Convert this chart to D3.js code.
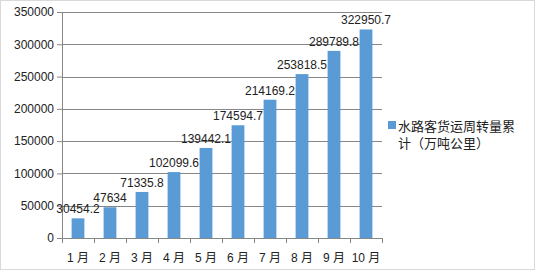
<!DOCTYPE html>
<html>
<head>
<meta charset="utf-8">
<script src="https://cdn.jsdelivr.net/npm/d3@7"></script>
<style>
  body { margin: 0; background: #fff; }
  svg { display: block; }
  text { font-family: "Liberation Sans", "Noto Sans CJK SC", sans-serif; fill: #222; }
</style>
</head>
<body>
<svg width="535" height="270"></svg>
<script>
const months = ['1月', '2月', '3月', '4月', '5月', '6月', '7月', '8月', '9月', '10月'];
const values = [30454.2, 47634, 71335.8, 102099.6, 139442.1, 174594.7, 214169.2, 253818.5, 289789.8, 322950.7];
const yTicks = [0, 50000, 100000, 150000, 200000, 250000, 300000, 350000];
const seriesName = ['水路客货运周转量累', '计（万吨公里）'];

const svg = d3.select('svg');
const width = parseInt(svg.attr('width'));
const height = parseInt(svg.attr('height'));

// outer frame
svg.append('rect')
  .attr('x', 0.5).attr('y', 0.5)
  .attr('width', width - 1).attr('height', height - 1)
  .attr('fill', 'none').attr('stroke', '#d9d9d9');

const margin = { top: 12, right: 153, bottom: 32, left: 62 };
const innerWidth = width - margin.left - margin.right;
const innerHeight = height - margin.top - margin.bottom;

const g = svg.append('g')
  .attr('transform', `translate(${margin.left},${margin.top})`);

const xScale = d3.scaleBand()
  .domain(months)
  .range([0, innerWidth])
  .paddingInner(0.6)
  .paddingOuter(0.3);

const yScale = d3.scaleLinear()
  .domain([0, 350000])
  .range([innerHeight, 0]);

// gridlines + y axis
const yAxis = d3.axisLeft(yScale)
  .tickValues(yTicks)
  .tickSize(5)
  .tickPadding(3)
  .tickFormat(d3.format('d'));

g.append('g').selectAll('line').data(yTicks.slice(1))
  .enter().append('line')
    .attr('x1', 0).attr('x2', innerWidth)
    .attr('y1', d => Math.round(yScale(d)) + 0.5)
    .attr('y2', d => Math.round(yScale(d)) + 0.5)
    .attr('stroke', '#868686');

const yAxisG = g.append('g').call(yAxis);
yAxisG.selectAll('line, path').attr('stroke', '#868686');
yAxisG.selectAll('text').style('font-size', '12px').attr('fill', '#222');

// x axis with ticks at band edges
const xAxisG = g.append('g')
  .attr('transform', `translate(0,${innerHeight})`);
xAxisG.append('line')
  .attr('x1', 0).attr('x2', innerWidth)
  .attr('y1', 0.5).attr('y2', 0.5)
  .attr('stroke', '#868686');
const step = xScale.step();
const edges = d3.range(months.length + 1).map(i => i * innerWidth / months.length);
xAxisG.selectAll('.edge').data(edges)
  .enter().append('line')
    .attr('x1', d => Math.round(d) + 0.5).attr('x2', d => Math.round(d) + 0.5)
    .attr('y1', 0).attr('y2', 5)
    .attr('stroke', '#868686');
xAxisG.selectAll('.lbl').data(months)
  .enter().append('text')
    .attr('x', d => xScale(d) + xScale.bandwidth() / 2)
    .attr('y', 24)
    .attr('text-anchor', 'middle')
    .style('font-size', '12px')
    .text(d => d.replace('月', ' 月'));

// bars
g.selectAll('.bar').data(values)
  .enter().append('rect')
    .attr('x', (d, i) => xScale(months[i]))
    .attr('y', d => yScale(d))
    .attr('width', xScale.bandwidth())
    .attr('height', d => innerHeight - yScale(d))
    .attr('fill', '#5b9bd5');

// value labels
g.selectAll('.val').data(values)
  .enter().append('text')
    .attr('x', (d, i) => xScale(months[i]) + xScale.bandwidth() / 2)
    .attr('y', d => yScale(d) - 5)
    .attr('text-anchor', 'middle')
    .style('font-size', '12px')
    .text(d => d);

// legend
const legend = svg.append('g').attr('transform', 'translate(388,121)');
legend.append('rect')
  .attr('width', 8).attr('height', 8)
  .attr('fill', '#5b9bd5');
legend.selectAll('text').data(seriesName)
  .enter().append('text')
    .attr('x', 10)
    .attr('y', (d, i) => 10 + i * 17)
    .style('font-size', '13px')
    .style('font-family', '"Noto Sans CJK SC", sans-serif')
    .text(d => d);
</script>
</body>
</html>
